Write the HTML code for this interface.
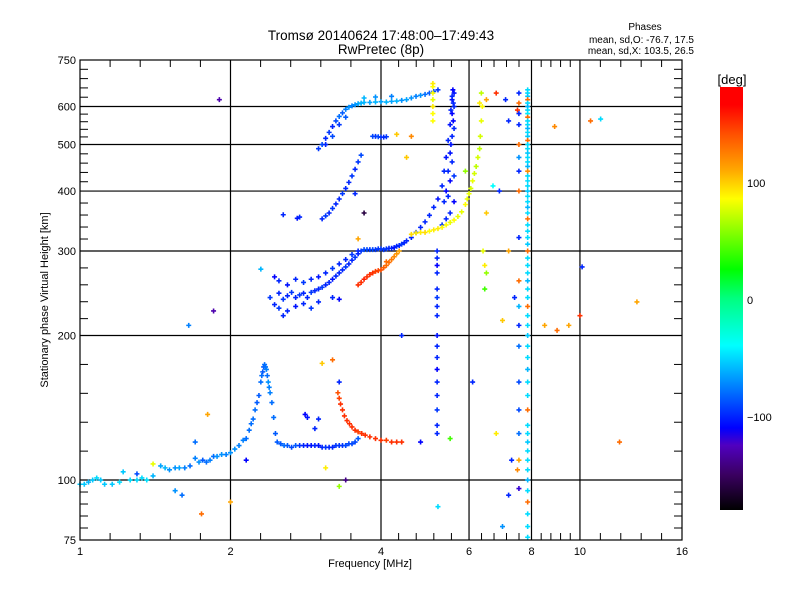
<!DOCTYPE html>
<html><head><meta charset="utf-8"><style>
body{margin:0;background:#fff;}
svg{display:block;font-family:"Liberation Sans",sans-serif;}
</style></head><body>
<svg id="chart" width="800" height="600" viewBox="0 0 800 600">
<defs>
<linearGradient id="cb" x1="0" y1="1" x2="0" y2="0">
<stop offset="0" stop-color="#000000"/>
<stop offset="0.083" stop-color="#3a0060"/>
<stop offset="0.153" stop-color="#5000c0"/>
<stop offset="0.194" stop-color="#0000ff"/>
<stop offset="0.292" stop-color="#0080ff"/>
<stop offset="0.389" stop-color="#00ffff"/>
<stop offset="0.5" stop-color="#00ff80"/>
<stop offset="0.569" stop-color="#00ff00"/>
<stop offset="0.736" stop-color="#ffff00"/>
<stop offset="0.806" stop-color="#ffa500"/>
<stop offset="0.889" stop-color="#ff5000"/>
<stop offset="0.958" stop-color="#ff0000"/>
<stop offset="1" stop-color="#ff0000"/>
</linearGradient>
</defs>
<text x="381" y="40" font-size="13.5" text-anchor="middle">Tromsø 20140624  17:48:00–17:49:43</text>
<text x="381" y="54" font-size="13.5" text-anchor="middle">RwPretec (8p)</text>
<text x="645" y="30" font-size="10" text-anchor="middle">Phases</text>
<text x="694" y="43" font-size="10" text-anchor="end">mean, sd,O: -76.7, 17.5</text>
<text x="694" y="54" font-size="10" text-anchor="end">mean, sd,X: 103.5, 26.5</text>
<text transform="translate(48,300) rotate(-90)" font-size="11" text-anchor="middle">Stationary phase Virtual Height [km]</text>
<text x="370" y="567" font-size="11" text-anchor="middle">Frequency [MHz]</text>
<g id="grid"></g>
<g id="marks"></g>
<rect x="80" y="60" width="602" height="480" fill="none" stroke="#000" stroke-width="1.2"/>
<g id="axes"></g>
<rect x="720" y="87" width="23" height="423" fill="url(#cb)"/>
<text x="732" y="84" font-size="13" text-anchor="middle">[deg]</text>
<text x="747" y="187" font-size="11">100</text>
<text x="747" y="304" font-size="11">0</text>
<text x="747" y="421" font-size="11">−100</text>
</svg>
<script>
const xTickLabels=[1,2,4,6,8,10,16];
const xGrid=[2,4,6,8,10];
const yTickLabels=[75,100,200,300,400,500,600,750];
const yGrid=[100,200,300,400,500,600];
const eTrace=[[1.0,98,-55],[1.02,98,-55],[1.04,99,-60],[1.06,100,-55],[1.08,101,-50],[1.1,100,-55],[1.12,98,-55],[1.16,98,-55],[1.2,99,-50],[1.22,104,-55],[1.26,100,-50],[1.3,100,-50],[1.33,101,-50],[1.36,100,-48],[1.4,102,-60],[1.45,107,-65],[1.48,106,-60],[1.51,105,-70],[1.55,106,-70],[1.58,106,-65],[1.62,106,-75],[1.66,107,-80],[1.7,111,-75],[1.73,109,-70],[1.76,110,-85],[1.79,109,-80],[1.82,110,-75],[1.85,112,-80],[1.88,112,-70],[1.92,113,-70],[1.96,113,-75],[2.0,114,-70],[2.04,116,-70],[2.08,118,-75],[2.12,121,-75],[2.15,122,-80],[2.18,127,-80],[2.2,131,-80],[2.22,134,-80],[2.24,140,-80],[2.26,145,-85],[2.28,150,-85],[2.3,160,-80],[2.31,165,-80],[2.32,168,-85],[2.33,172,-85],[2.34,174,-80],[2.35,172,-80],[2.36,170,-75],[2.37,165,-80],[2.38,160,-70],[2.39,156,-75],[2.4,152,-75],[2.42,145,-80],[2.44,135,-80],[2.46,125,-85],[2.48,120,-85],[2.52,119,-85],[2.56,118,-80],[2.6,118,-85],[2.65,117,-90],[2.7,118,-85],[2.75,118,-95],[2.8,118,-100],[2.85,118,-105],[2.9,118,-105],[2.95,118,-100],[3.0,118,-105],[3.05,117,-100],[3.1,117,-95],[3.15,117,-100],[3.2,117,-100],[3.25,118,-95],[3.3,118,-95],[3.35,118,-95],[3.4,118,-90],[3.45,119,-90],[3.5,119,-90],[3.55,120,-90],[3.6,122,-85],[2.82,137,-110],[2.85,135,-105],[3.0,134,-100],[2.95,128,-100]];
const eOrange=[[3.28,152,140],[3.3,148,145],[3.32,144,150],[3.35,140,150],[3.38,136,150],[3.42,133,150],[3.46,131,150],[3.5,129,150],[3.55,127,150],[3.6,126,145],[3.66,125,150],[3.72,124,150],[3.8,123,150],[3.9,122,150],[4.0,121,150],[4.1,121,145],[4.2,120,150],[4.3,120,150],[4.4,120,150]];
const fBlue=[[2.4,240,-95],[2.45,232,-100],[2.5,245,-100],[2.55,238,-95],[2.6,242,-100],[2.65,246,-95],[2.7,240,-100],[2.75,243,-95],[2.8,245,-100],[2.85,240,-100],[2.9,246,-95],[2.95,248,-100],[3.0,250,-100],[3.05,252,-95],[3.1,255,-100],[3.15,258,-100],[3.2,262,-105],[3.25,266,-100],[3.3,270,-100],[3.35,274,-100],[3.4,278,-95],[3.45,282,-100],[3.5,287,-100],[3.55,291,-95],[3.6,296,-100],[3.65,300,-95],[3.7,302,-90],[3.75,302,-90],[3.8,302,-95],[3.85,302,-90],[3.9,302,-95],[3.95,303,-95],[4.0,303,-95],[4.05,302,-95],[4.1,303,-95],[4.15,304,-100],[4.2,304,-100],[4.25,305,-105],[4.3,307,-100],[4.35,308,-100],[4.4,310,-95],[4.45,312,-100],[4.5,315,-100],[4.6,320,-100],[4.7,328,-100],[4.8,336,-100],[4.9,345,-100],[5.0,356,-100],[5.1,370,-100],[5.2,385,-105],[5.3,410,-100],[5.35,440,-100],[5.4,470,-105],[5.45,510,-100],[5.5,550,-105],[5.52,590,-100],[5.55,620,-105],[5.57,650,-110],[5.6,600,-100],[5.58,560,-110],[5.55,520,-100],[5.5,480,-105],[5.45,440,-100],[5.4,400,-110],[5.35,380,-100],[5.6,430,-95],[5.6,380,-110],[5.5,360,-100],[5.55,630,-100],[5.6,640,-105],[5.58,610,-100],[5.55,580,-110],[5.6,540,-100],[5.52,500,-105],[5.55,460,-100],[5.5,420,-110],[5.45,390,-100],[5.4,350,-100],[5.3,340,-95]];
const fBlue2=[[2.5,260,-100],[2.6,255,-105],[2.7,262,-100],[2.8,258,-95],[2.9,262,-100],[3.0,265,-105],[3.1,270,-100],[3.2,276,-95],[3.3,282,-100],[3.4,288,-100],[3.5,295,-95],[3.6,300,-100],[2.5,228,-95],[2.6,225,-100],[2.7,230,-105],[2.8,233,-100],[2.9,228,-95],[3.0,235,-100],[3.2,240,-100],[3.3,238,-110],[2.55,220,-100],[2.45,265,-110]];
const fOrange=[[3.6,255,150],[3.65,258,150],[3.7,262,155],[3.75,265,150],[3.8,268,150],[3.85,270,150],[3.9,272,145],[3.95,273,145],[4.0,274,140],[4.05,277,135],[4.1,280,130],[4.15,284,130],[4.2,288,125],[4.25,292,120],[4.3,296,115],[4.35,300,110]];
const fYellow=[[4.6,325,95],[4.7,327,90],[4.8,328,90],[4.9,328,95],[5.0,330,85],[5.1,332,90],[5.2,334,90],[5.3,336,85],[5.4,340,85],[5.5,344,80],[5.6,348,85],[5.7,354,80],[5.8,362,80],[5.9,375,85],[5.95,385,80],[6.0,395,80],[6.05,405,75],[6.1,420,80],[6.15,435,75],[6.2,450,70],[6.25,470,75],[6.3,490,70],[6.32,520,75],[6.35,560,80],[6.38,600,85]];
const cusp=[[3.05,350,-100],[3.1,355,-95],[3.15,360,-100],[3.2,368,-95],[3.25,376,-100],[3.3,385,-100],[3.35,395,-95],[3.4,405,-100],[3.45,417,-100],[3.5,430,-95],[3.55,444,-100],[3.6,460,-95],[3.65,475,-90],[2.55,357,-100],[2.72,351,-105],[2.75,353,-100]];
const f2Trace=[[3.0,490,-95],[3.05,500,-90],[3.1,515,-100],[3.15,530,-95],[3.2,545,-100],[3.25,560,-90],[3.3,572,-80],[3.35,582,-85],[3.4,592,-75],[3.45,598,-70],[3.5,602,-75],[3.55,605,-70],[3.6,608,-65],[3.65,610,-60],[3.7,612,-60],[3.8,612,-65],[3.9,613,-60],[4.0,614,-65],[4.1,613,-60],[4.2,615,-65],[4.3,616,-60],[4.4,618,-70],[4.5,620,-65],[4.6,625,-70],[4.7,630,-75],[4.8,633,-70],[4.9,636,-80],[5.0,640,-85],[5.1,645,-90],[5.2,650,-95],[3.1,500,-100],[3.2,520,-90],[3.3,550,-95],[3.4,570,-85],[3.7,625,-60],[3.9,628,-70],[4.2,630,-75]];
const shortSeg=[[3.85,520,-90],[3.9,520,-95],[3.95,519,-90],[4.0,518,-95],[4.05,518,-100],[4.1,519,-95]];
const colCyanF=7.86;
const colCyanH=[650,640,630,620,610,600,590,580,570,560,550,540,530,520,510,500,490,480,470,460,450,440,430,420,410,400,390,380,370,360,350,340,330,320,310,300,290,280,270,260,250,240,230,220,210,200,190,180,170,160,150,140,130,125,120,115,110,105,100,95,90,85,80,76];
const colCyanP=[-50,-50,-55,130,-50,-60,-50,-45,130,-50,-50,-60,-50,-55,130,-50,-50,-55,-50,-50,-60,120,-50,-50,-50,-55,-50,-50,-60,-50,130,-50,-50,-50,-55,130,-50,-50,-50,-60,-50,-50,130,-50,-50,-55,-50,-50,-60,-50,-50,130,-50,-50,-55,-50,-50,-50,-60,-50,130,-50,-50,-50];
const colBlueF=5.18;
const colBlueH=[300,290,280,270,250,240,230,220,200,190,180,170,160,150,140,130,125];
const colBlueP=[-100,-100,-110,-100,-100,-95,-100,-100,-105,-100,-100,-110,-100,-100,-95,-100,-100];
const colYellowF=5.08;
const colYellowH=[560,580,600,620,640,660,670];
const colYellowP=[85,85,90,80,85,85,90];
const colSparseF=7.55;
const colSparseH=[640,610,580,550,500,470,440,400,320,260,230,210,190,160,140,125,110,96];
const colSparseP=[-100,130,-100,-100,130,-70,-100,130,-100,130,-60,-100,-80,-90,-90,-80,110,-120];
const scatter=[[1.9,620,-130],[1.85,225,-130],[1.65,210,-75],[1.8,137,110],[2.3,275,-60],[1.55,95,-70],[1.6,93,-80],[1.75,85,130],[1.7,120,-80],[2.15,110,-110],[3.05,175,100],[3.2,178,130],[3.3,160,-100],[3.1,106,90],[3.4,100,-140],[3.3,97,60],[4.1,285,130],[3.6,318,110],[4.5,470,100],[3.55,395,-100],[4.6,520,120],[4.3,525,100],[3.7,360,-160],[4.8,120,-110],[5.5,122,40],[5.2,88,-50],[6.5,360,100],[6.8,125,90],[7.0,215,100],[7.2,300,110],[7.3,110,-100],[7.5,105,120],[8.5,210,110],[9,205,130],[9.5,210,110],[10,220,150],[10.5,560,130],[11,565,-50],[12,120,130],[13,235,110],[10.1,278,-100],[8.9,545,120],[7.4,240,-100],[7.0,80,-70],[7.2,93,-100],[6.8,640,150],[6.5,620,110],[7.5,590,150],[6.9,400,-100],[6.7,410,-40],[5.9,440,60],[6.1,160,-100],[4.4,200,-100],[1.4,108,80],[1.3,103,-90],[2.0,90,110],[6.4,300,80],[6.45,280,90],[6.5,270,60],[6.45,250,40],[6.3,610,90],[6.35,640,70],[7.1,620,-100],[7.2,560,-100]];

const NS='http://www.w3.org/2000/svg';
const X0=80,X1=682,Y0=60,Y1=540;
function xs(f){return X0+(X1-X0)*Math.log2(f)/4;}
function ys(h){return Y1-(Y1-Y0)*Math.log2(h/75)/Math.log2(10);}
const stops=[[-180,[0,0,0]],[-150,[58,0,96]],[-125,[80,0,192]],[-110,[0,0,255]],[-75,[0,128,255]],[-40,[0,255,255]],[0,[0,255,128]],[25,[0,255,0]],[85,[255,255,0]],[110,[255,165,0]],[140,[255,80,0]],[165,[255,0,0]],[180,[255,0,0]]];
function cmap(p){
  for(let i=1;i<stops.length;i++){
    if(p<=stops[i][0]){const a=stops[i-1],b=stops[i];const t=(p-a[0])/(b[0]-a[0]);
      const c=a[1].map((v,k)=>Math.round(v+(b[1][k]-v)*t));return 'rgb('+c.join(',')+')';}
  }
  return 'rgb(255,0,0)';
}
function mk(tag,attrs,parent){const e=document.createElementNS(NS,tag);for(const k in attrs)e.setAttribute(k,attrs[k]);parent.appendChild(e);return e;}
const grid=document.getElementById('grid'),axes=document.getElementById('axes'),marks=document.getElementById('marks');
xGrid.forEach(v=>{const l=mk('line',{x1:xs(v),x2:xs(v),y1:Y0,y2:Y1,stroke:'#000','stroke-width':1.2},grid);
  
  });
yGrid.forEach(v=>{const l=mk('line',{x1:X0,x2:X1,y1:ys(v),y2:ys(v),stroke:'#000','stroke-width':1.2},grid);
  
  });
for(let i=0;i<xTickLabels.length-1;i++){const a=xs(xTickLabels[i]),b=xs(xTickLabels[i+1]);
  for(let k=1;k<5;k++){const x=a+(b-a)*k/5;
    const t1=mk('line',{x1:x,x2:x,y1:Y1,y2:Y1-7,stroke:'#000'},axes);
    
    
    const t2=mk('line',{x1:x,x2:x,y1:Y0,y2:Y0+7,stroke:'#000'},axes);
    
    }}
for(let i=0;i<yTickLabels.length-1;i++){const a=ys(yTickLabels[i]),b=ys(yTickLabels[i+1]);
  for(let k=1;k<5;k++){const y=a+(b-a)*k/5;
    const t1=mk('line',{x1:X0,x2:X0+8,y1:y,y2:y,stroke:'#000'},axes);
    
    
    const t2=mk('line',{x1:X1,x2:X1-8,y1:y,y2:y,stroke:'#000'},axes);
    
    }}
xTickLabels.forEach(v=>{const t=mk('text',{x:xs(v),y:555,'font-size':11,'text-anchor':'middle'},axes);t.textContent=v;
  
  });
yTickLabels.forEach(v=>{const t=mk('text',{x:76,y:ys(v)+4,'font-size':11,'text-anchor':'end'},axes);t.textContent=v;
  
  });
function plus(f,h,p){const x=xs(f),y=ys(h);
  const g=mk('path',{d:'M'+(x-2.5)+' '+y+'H'+(x+2.5)+'M'+x+' '+(y-2.5)+'V'+(y+2.5),stroke:cmap(p),'stroke-width':1.6},marks);
  
  }
[eTrace,eOrange,fBlue,fBlue2,fOrange,fYellow,cusp,f2Trace,shortSeg,scatter].forEach(s=>s.forEach(d=>plus(d[0],d[1],d[2])));
colCyanH.forEach((h,i)=>plus(colCyanF,h,colCyanP[i]));
colBlueH.forEach((h,i)=>plus(colBlueF,h,colBlueP[i]));
colYellowH.forEach((h,i)=>plus(colYellowF,h,colYellowP[i]));
colSparseH.forEach((h,i)=>plus(colSparseF,h,colSparseP[i]));
</script>
</body></html>
